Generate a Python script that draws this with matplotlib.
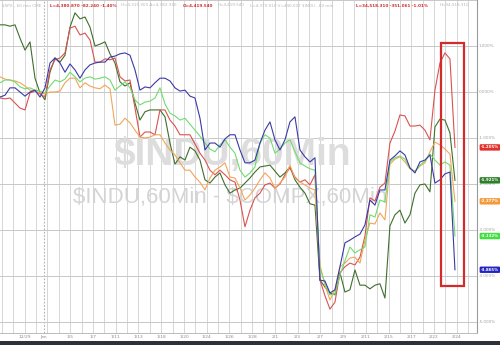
import numpy as np
import matplotlib
matplotlib.use("Agg")
import matplotlib.pyplot as plt
from matplotlib.patches import Rectangle
import matplotlib.transforms as mtrans

# ---------------- data (percent change, hourly bars) ----------------
blue = [-0.11, -0.07, 0.09, 0.09, 0.00, -0.09, 0.00, 0.04, -0.11, 0.09,
        0.63, 0.74, 0.63, 0.43, 0.61, 0.48, 0.30, 0.48, 0.59, 0.63,
        0.65, 0.65, 0.76, 0.78, 0.83, 0.85, 0.80, 0.48, 0.04, 0.11,
        0.09, 0.20, 0.30, 0.30, 0.24, 0.09, 0.02, 0.04, -0.09, -0.13,
        -0.57, -1.26, -1.11, -1.11, -1.20, -1.02, -0.93, -0.93, -1.26, -1.54,
        -1.54, -1.48, -1.11, -0.83, -0.65, -1.04, -1.26, -1.04, -0.65, -0.54,
        -1.26, -1.41, -1.52, -1.43, -4.09, -4.11, -4.37, -4.30, -3.80, -3.28,
        -3.22, -3.15, -3.09, -2.89, -2.35, -2.46, -2.13, -2.13, -1.48, -1.39,
        -1.28, -1.37, -1.65, -1.76, -1.52, -1.48, -1.37, -1.98, -1.91, -1.78,
        -1.74, -3.865]
red = [-0.13, -0.15, -0.13, -0.24, -0.35, -0.39, -0.02, 0.02, -0.04, -0.11,
       0.48, 0.70, 0.74, 0.85, 1.39, 1.43, 1.24, 1.28, 1.13, 0.65,
       0.65, 0.72, 0.70, 0.74, 0.33, 0.24, 0.26, -0.35, -0.98, -0.87,
       -0.87, -0.93, -0.39, -0.39, -0.61, -0.74, -0.93, -0.93, -0.93, -1.13,
       -1.33, -1.48, -1.70, -1.80, -1.70, -1.80, -1.91, -1.96, -2.35, -2.93,
       -2.57, -2.30, -2.20, -2.02, -1.98, -2.09, -2.00, -1.80, -1.65, -1.85,
       -1.96, -1.91, -2.02, -1.80, -4.09, -4.43, -4.72, -4.57, -3.93, -3.80,
       -3.72, -3.76, -3.59, -3.13, -2.30, -2.37, -2.07, -1.98, -1.11, -0.85,
       -0.50, -0.52, -0.74, -0.74, -0.72, -0.83, -1.04, 0.04, 0.63, 0.85,
       0.72, -1.205]
dkgreen = [1.46, 1.46, 1.43, 1.46, 1.17, 0.91, 1.09, 0.30, -0.02, -0.17,
           0.43, 0.74, 0.65, 0.80, 1.41, 1.72, 1.59, 1.63, 1.41, 1.00,
           1.04, 1.09, 0.83, 0.63, 0.22, 0.13, 0.20, -0.24, -0.61, -0.43,
           -0.39, -0.39, -0.39, -0.54, -1.11, -1.57, -1.41, -1.48, -1.20, -1.28,
           -1.48, -1.91, -1.98, -1.85, -1.76, -2.02, -2.20, -2.13, -2.09, -1.98,
           -1.87, -1.74, -1.63, -1.61, -1.59, -1.72, -1.85, -1.76, -1.63, -1.91,
           -2.07, -2.20, -2.43, -2.46, -4.09, -4.24, -4.37, -4.41, -3.93, -4.35,
           -4.30, -3.87, -4.20, -4.20, -4.28, -4.20, -4.17, -4.48, -2.91, -2.67,
           -2.57, -2.85, -2.67, -2.20, -2.02, -2.00, -2.17, -0.76, -0.59, -0.61,
           -0.89, -1.921]
orange = [0.33, 0.28, 0.26, 0.24, 0.20, 0.13, 0.04, 0.02, -0.02, -0.04,
          0.00, 0.00, 0.02, 0.20, 0.30, 0.30, 0.09, 0.20, 0.13, 0.09,
          0.07, 0.15, 0.07, -0.72, -0.70, -0.57, -0.67, -0.83, -0.98, -1.00,
          -0.98, -0.93, -0.93, -1.11, -1.26, -1.37, -1.54, -1.70, -1.70, -1.85,
          -1.96, -2.13, -1.87, -1.70, -1.63, -1.54, -1.85, -1.87, -2.09, -2.35,
          -2.24, -2.09, -1.91, -1.76, -1.87, -2.09, -1.98, -1.85, -1.59, -1.87,
          -1.96, -2.02, -2.09, -2.13, -3.76, -4.20, -4.52, -4.30, -3.80, -3.72,
          -3.61, -3.59, -3.72, -3.22, -2.85, -2.87, -2.63, -2.78, -1.57, -1.46,
          -1.41, -1.52, -1.67, -1.72, -1.61, -1.54, -1.30, -1.09, -1.15, -1.24,
          -1.35, -2.377]
ltgreen = [0.20, 0.26, 0.26, 0.22, 0.11, 0.07, 0.09, 0.04, 0.02, -0.02,
           0.13, 0.26, 0.22, 0.28, 0.43, 0.33, 0.22, 0.30, 0.33, 0.28,
           0.30, 0.33, 0.26, 0.04, 0.13, 0.22, 0.09, -0.17, -0.28, -0.22,
           -0.20, -0.13, 0.09, -0.26, -0.46, -0.52, -0.61, -0.57, -0.70, -0.83,
           -0.96, -1.11, -1.24, -1.30, -1.15, -1.04, -1.20, -1.33, -1.70, -1.85,
           -1.76, -1.63, -1.11, -0.93, -1.00, -1.33, -1.24, -1.11, -1.04, -1.30,
           -1.54, -1.61, -1.67, -1.70, -3.83, -4.15, -4.41, -4.39, -3.98, -3.67,
           -3.37, -3.50, -3.43, -3.37, -2.67, -2.72, -2.35, -2.39, -1.52, -1.43,
           -1.39, -1.46, -1.65, -1.74, -1.59, -1.50, -1.35, -1.48, -1.59, -1.52,
           -1.59, -3.132]

end_labels = ["-1.205%", "-1.921%", "-2.377%", "-3.132%", "-3.865%"]
ytick_vals = [1, 0, -1, -2, -3, -4, -5]
ytick_labels = ["1.000%", "0.000%", "-1.000%", "-2.000%", "-3.000%", "-4.000%", "-5.000%"]
day_labels = ["12/29", "Jan", "1/5", "1/7", "1/11", "1/13", "1/18", "1/20", "1/24", "1/26",
              "1/28", "2/1", "2/3", "2/7", "2/9", "2/11", "2/15", "2/17", "2/22", "2/24"]

# ---------------- figure ----------------
W, H = 500, 345
fig = plt.figure(figsize=(W / 100, H / 100), dpi=100)
fig.patch.set_facecolor("white")
ax = fig.add_axes([0, 12 / H, 477 / W, 333 / H])
ax.set_facecolor("white")

n = len(blue)
x = np.linspace(-0.176, 39.84, n)          # time in trading-day units
ax.set_xlim(-0.176, 41.78)
ax.set_ylim(-5.24, 2.0)

# grid
for k in range(42):
    ax.axvline(k, color="#d6d6d6", lw=0.7, zorder=0)
ax.axvline(3.69, color="#b0b0b0", lw=0.8, ls=(0, (1.5, 1.5)), zorder=0)
for v in [2] + ytick_vals:
    ax.axhline(v, color="#c8c8c8", lw=0.7, zorder=0)

# watermarks
ax.text(0.237, 0.535, "\\$INDU,60Min", transform=ax.transAxes, fontsize=28,
        fontweight="bold", family="Liberation Sans", color="#dddddd",
        ha="left", va="center", zorder=1)
ax.text(0.153, 0.408, "\\$INDU,60Min - \\$COMPX,60Min", transform=ax.transAxes,
        fontsize=16, family="Liberation Sans", color="#d4d4d4",
        ha="left", va="center", zorder=1)

# series
series = [(dkgreen, "#3f6f2c"), (red, "#d9534f"), (orange, "#f2a55a"),
          (ltgreen, "#6fdc6f"), (blue, "#3a3aa8")]
for vals, c in series:
    ax.plot(x, vals, color=c, lw=0.8, zorder=3)

# highlight box
ax.add_patch(Rectangle((38.62, -4.22), 2.0, 5.28, fill=False,
                       edgecolor="#d42a2a", lw=1.6, zorder=5))

# x ticks
ticks = [2 * k for k in range(1, 21)]
ticks[1] = 3.69
ax.set_xticks(ticks)
ax.set_xticklabels(day_labels, fontsize=3.2, color="#8a8a8a")
ax.tick_params(axis="x", length=0, pad=1.5)
ax.set_yticks([])
for s in ["top", "left"]:
    ax.spines[s].set_visible(False)
ax.spines["bottom"].set_color("#bbbbbb")
ax.spines["bottom"].set_linewidth(0.7)
ax.spines["right"].set_color("#9a9a9a")
ax.spines["right"].set_linewidth(0.8)

# right axis labels
tr = mtrans.blended_transform_factory(ax.transAxes, ax.transData)
for v, lab in zip(ytick_vals, ytick_labels):
    ax.text(1.004, v, lab, transform=tr, fontsize=3.0, color="#a0a0a0",
            ha="left", va="center", clip_on=False)

box_cols = ["#e2302c", "#2d7f2a", "#f59a3a", "#3fe03f", "#2424c4"]
for vals, lab, c in zip([red, dkgreen, orange, ltgreen, blue], end_labels, box_cols):
    ax.text(1.008, vals[-1], lab, transform=tr, fontsize=2.9, color="white",
            fontweight="bold", ha="left", va="center", clip_on=False, zorder=6,
            bbox=dict(boxstyle="round,pad=0.3,rounding_size=0.3", fc=c, ec="none"))

# header line
hy = 1 - 5.5 / H
header = [(2, "\\$SPX - 60 min CME", "#b5b5b5"),
          (50, "L=4,380.870 -82.240 -1.40%", "#cc3030"),
          (121, "H=4,315.300 A=4,382.330", "#b5b5b5"),
          (183, "O=4,419.540", "#cc3030"),
          (218, "H=4,419.540", "#b5b5b5"),
          (250, "L=4,370.910 V=440,007 \\$INDU - 60 min", "#b5b5b5"),
          (356, "L=34,518.310 -351.061 -1.01%", "#cc3030"),
          (440, "H=34,518.310", "#b5b5b5")]
for px, t, c in header:
    fig.text(px / W, hy, t, fontsize=3.0, color=c, ha="left", va="center",
             fontweight="bold" if c == "#cc3030" else "normal")

# bottom dark bar
fig.patches.append(Rectangle((0, 0), 1, 4.5 / H, transform=fig.transFigure,
                             facecolor="#2c313a", edgecolor="none", zorder=0))

fig.savefig("out.png", dpi=100, facecolor="white")
